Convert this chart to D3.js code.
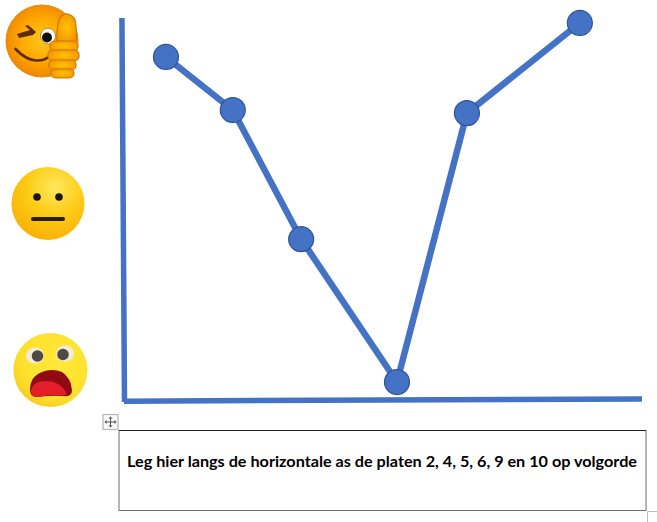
<!DOCTYPE html>
<html>
<head>
<meta charset="utf-8">
<script src="https://cdn.jsdelivr.net/npm/d3@7"></script>
<style>
  html, body { margin: 0; padding: 0; background: #fff; }
  svg { display: block; }
</style>
</head>
<body>
<svg width="657" height="522"></svg>
<script>
// values (percent along each axis)
var platePos = [8.1, 21.0, 34.2, 52.7, 66.2, 88.0];
var feeling = [89.8, 75.9, 42.1, 4.7, 75.1, 98.7];
var xAxisEnds = [0, 100];
var yAxisEnds = [0, 100];
var caption = "Leg hier langs de horizontale as de platen 2, 4, 5, 6, 9 en 10 op volgorde";

var blue = "#4472c4";

var svg = d3.select("svg");
var defs = svg.append("defs");

var x = d3.scaleLinear().domain([0, 100]).range([124, 642]);
var y = d3.scaleLinear().domain([0, 100]).range([400, 18]);

function radial(id, stops, cx, cy, r) {
  var g = defs.append("radialGradient").attr("id", id)
    .attr("cx", cx).attr("cy", cy).attr("r", r);
  stops.forEach(function(s) {
    g.append("stop").attr("offset", s[0]).attr("stop-color", s[1]);
  });
}

radial("faceWink", [["0%", "#ffc81e"], ["55%", "#ffa800"], ["100%", "#ee8200"]], "50%", "48%", "55%");
radial("faceFlat", [["0%", "#ffe85e"], ["50%", "#fdcb14"], ["100%", "#f9ae08"]], "60%", "28%", "78%");
radial("faceShock", [["0%", "#ffe93a"], ["70%", "#fde02c"], ["100%", "#f6c81c"]], "62%", "35%", "75%");
radial("thumbFill", [["0%", "#ffc400"], ["100%", "#f59200"]], "50%", "50%", "60%");

// axes
svg.append("line")
  .attr("x1", x(-0.4)).attr("y1", y(100))
  .attr("x2", x(yAxisEnds[0]) + 0.5).attr("y2", y(-0.5))
  .attr("stroke", blue).attr("stroke-width", 5.5);
svg.append("line")
  .attr("x1", x(xAxisEnds[0])).attr("y1", y(-0.3))
  .attr("x2", x(xAxisEnds[1])).attr("y2", y(0.25))
  .attr("stroke", blue).attr("stroke-width", 5.5);

// line and points
var pts = d3.zip(platePos, feeling);
var line = d3.line().x(function(d) { return x(d[0]); }).y(function(d) { return y(d[1]); });

svg.append("path").datum(pts)
  .attr("d", line)
  .attr("fill", "none")
  .attr("stroke", blue)
  .attr("stroke-width", 6.5);

svg.selectAll("circle.point")
  .data(pts)
  .enter().append("circle")
    .attr("class", "point")
    .attr("cx", function(d) { return x(d[0]); })
    .attr("cy", function(d) { return y(d[1]); })
    .attr("r", 12.5)
    .attr("fill", blue)
    .attr("stroke", "#2f5597")
    .attr("stroke-width", 1.2);

// winking face with thumb
var wink = svg.append("g");
wink.append("circle").attr("cx", 42).attr("cy", 41).attr("r", 36)
  .attr("fill", "url(#faceWink)").attr("stroke", "#e08a10").attr("stroke-width", 1);
wink.append("path").attr("d", "M17 34 L30 30 L25 26 L28 25 L36 32 L33 35 L19 38 Z").attr("fill", "#5e2c00");
wink.append("path").attr("d", "M15.5 49 Q26 60 36 60.5 Q44 61 50 56")
  .attr("fill", "none").attr("stroke", "#5e2c00").attr("stroke-width", 2.6).attr("stroke-linecap", "round");
wink.append("ellipse").attr("cx", 48).attr("cy", 36).attr("rx", 7.5).attr("ry", 8)
  .attr("fill", "#fff").attr("stroke", "#c9801c").attr("stroke-width", 1);
wink.append("circle").attr("cx", 47).attr("cy", 37.5).attr("r", 5).attr("fill", "#111");
wink.append("path")
  .attr("d", "M57 42 Q56 30 59 20 Q62 13 68 14 Q76 16 76 26 Q77 34 76 41 Z")
  .attr("fill", "url(#thumbFill)").attr("stroke", "#c77b12").attr("stroke-width", 1.2);
[[50, 41, 28, 10], [48, 50, 31, 11], [49, 60, 27, 10], [51, 69, 23, 9]].forEach(function(f) {
  wink.append("rect").attr("x", f[0]).attr("y", f[1]).attr("width", f[2]).attr("height", f[3]).attr("rx", 4.5)
    .attr("fill", "url(#thumbFill)").attr("stroke", "#c77b12").attr("stroke-width", 1.2);
});

// neutral face
var flat = svg.append("g");
flat.append("circle").attr("cx", 48).attr("cy", 203.5).attr("r", 36.5).attr("fill", "url(#faceFlat)");
flat.append("circle").attr("cx", 37).attr("cy", 197).attr("r", 3.8).attr("fill", "#1b1410");
flat.append("circle").attr("cx", 59).attr("cy", 197).attr("r", 3.8).attr("fill", "#1b1410");
flat.append("rect").attr("x", 31).attr("y", 217).attr("width", 34).attr("height", 4).attr("rx", 2).attr("fill", "#2a1c10");

// shocked face
var shock = svg.append("g");
shock.append("circle").attr("cx", 50.5).attr("cy", 370).attr("r", 37).attr("fill", "url(#faceShock)");
shock.append("ellipse").attr("cx", 35).attr("cy", 355.5).attr("rx", 9).attr("ry", 8).attr("fill", "#f3eadc");
shock.append("circle").attr("cx", 37.5).attr("cy", 356).attr("r", 5.8).attr("fill", "#4f4a44");
shock.append("ellipse").attr("cx", 65).attr("cy", 353.5).attr("rx", 9).attr("ry", 8).attr("fill", "#f3eadc");
shock.append("circle").attr("cx", 63).attr("cy", 354.5).attr("r", 5.8).attr("fill", "#4f4a44");
shock.append("path")
  .attr("d", "M30 389 Q30 379 38 374 Q50 367 62 372 Q71 378 72 390 Q72 397 64 396 Q50 395 38 397 Q30 398 30 389 Z")
  .attr("fill", "#8f0a12");
shock.append("path")
  .attr("d", "M31 390 Q33 381 46 381 Q60 381 67 394 Q64 396 58 395 Q46 395 38 397 Q31 397 31 390 Z")
  .attr("fill", "#e41d2a");

// move handle
var handle = svg.append("g");
handle.append("rect").attr("x", 103).attr("y", 414.5).attr("width", 15).attr("height", 15)
  .attr("fill", "#f7f7f7").attr("stroke", "#b5b5b5").attr("stroke-width", 1.2);
handle.append("path").attr("d", "M110.5 418 V427 M105.5 422 H115.5")
  .attr("stroke", "#555").attr("stroke-width", 1);
handle.append("path")
  .attr("d", "M110.5 416.5 l-2 2 h4 Z M110.5 427.5 l-2 -2 h4 Z M104.5 422 l2 -2 v4 Z M116.5 422 l-2 -2 v4 Z")
  .attr("fill", "#555");

// caption box
svg.append("rect").attr("x", 119).attr("y", 430.5).attr("width", 527).attr("height", 80)
  .attr("fill", "#fff").attr("stroke", "#6e6e6e").attr("stroke-width", 1);
svg.append("line").attr("x1", 119).attr("y1", 430.5).attr("x2", 646).attr("y2", 430.5)
  .attr("stroke", "#222").attr("stroke-width", 1);
svg.append("text")
  .attr("x", 127).attr("y", 467)
  .attr("font-family", "Lato, 'Open Sans', sans-serif")
  .attr("font-weight", 700)
  .attr("font-size", 15)
  .attr("textLength", 510)
  .attr("lengthAdjust", "spacingAndGlyphs")
  .attr("fill", "#000")
  .text(caption);

// corner of the page selection
svg.append("path").attr("d", "M647.5 522 V511.5 H657")
  .attr("fill", "none").attr("stroke", "#bdbdbd").attr("stroke-width", 1);
</script>
</body>
</html>
